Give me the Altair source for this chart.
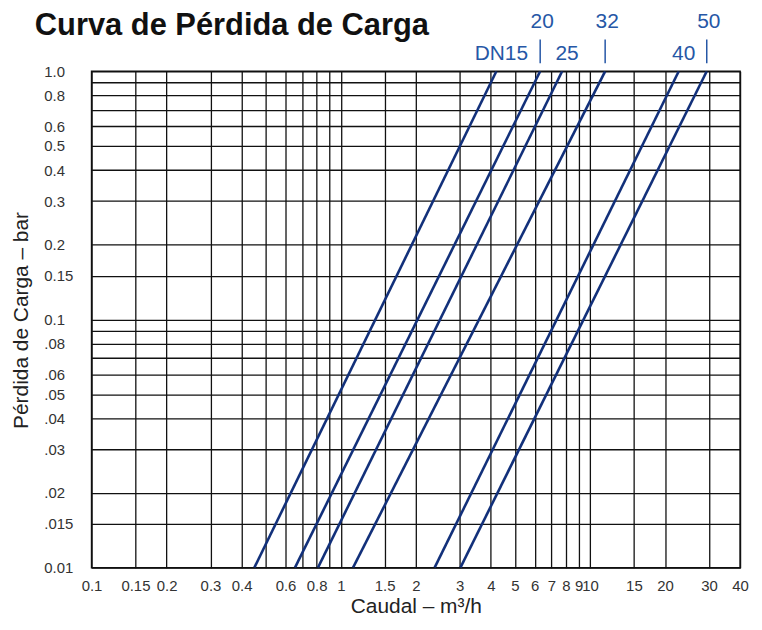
import json
import altair as alt
import pandas as pd

# ---- data ----
sizes = ["DN15", "20", "25", "32", "40", "50"]
flow_at_min_dp = [0.45, 0.655, 0.81, 1.12, 2.38, 3.02]   # m3/h at 0.01 bar
flow_at_max_dp = [4.21, 6.31, 7.73, 11.5, 22.7, 29.4]    # m3/h at 1.0 bar
dp_min, dp_max = 0.01, 1.0
upper_row = ["20", "32", "50"]

x_ticks = [0.1, 0.15, 0.2, 0.3, 0.4, 0.5, 0.6, 0.7, 0.8, 0.9, 1, 1.5, 2, 3, 4,
           5, 6, 7, 8, 9, 10, 15, 20, 30, 40]
x_labels = ["0.1", "0.15", "0.2", "0.3", "0.4", "", "0.6", "", "0.8", "", "1",
            "1.5", "2", "3", "4", "5", "6", "7", "8", "9", "10", "15", "20", "30", "40"]
y_ticks = [0.01, 0.015, 0.02, 0.03, 0.04, 0.05, 0.06, 0.07, 0.08, 0.09, 0.1,
           0.15, 0.2, 0.3, 0.4, 0.5, 0.6, 0.7, 0.8, 0.9, 1.0]
y_labels = ["0.01", ".015", ".02", ".03", ".04", ".05", ".06", "", ".08", "",
            "0.1", "0.15", "0.2", "0.3", "0.4", "0.5", "0.6", "", "0.8", "", "1.0"]
chart_title = "Curva de Pérdida de Carga"

# ---- tables ----
rows = []
for s, q0, q1 in zip(sizes, flow_at_min_dp, flow_at_max_dp):
    rows.append({"DN": s, "Q": q0, "dp": dp_min})
    rows.append({"DN": s, "Q": q1, "dp": dp_max})
line_df = pd.DataFrame(rows)
label_df = pd.DataFrame({"DN": sizes, "Q": flow_at_max_dp})

LINE = "#12307a"
LABEL = "#2657a6"
FONT = "Liberation Sans"

xscale = alt.Scale(type="log", domain=[0.1, 40], nice=False)
yscale = alt.Scale(type="log", domain=[0.01, 1.0], nice=False)

xaxis = alt.Axis(
    values=x_ticks,
    labelExpr=f"{json.dumps(x_labels)}[indexof({json.dumps(x_ticks)}, datum.value)]",
    title="Caudal – m³/h",
    ticks=False, tickSize=0, labelPadding=11, labelOverlap=False, labelFlush=False,
    titleY=39, titleBaseline="middle",
)
yaxis = alt.Axis(
    values=y_ticks,
    labelExpr=f"{json.dumps(y_labels)}[indexof({json.dumps(y_ticks)}, datum.value)]",
    title="Pérdida de Carga – bar",
    ticks=False, tickSize=0, labelPadding=48, labelAlign="left", labelBaseline="middle",
    labelOverlap=False, labelFlush=False,
    titleX=-70, titleY=250, titleAngle=270, titleAlign="center", titleBaseline="middle",
)

lines = alt.Chart(line_df).mark_line(color=LINE, strokeWidth=2.6, clip=True).encode(
    x=alt.X("Q:Q", scale=xscale, axis=xaxis),
    y=alt.Y("dp:Q", scale=yscale, axis=yaxis),
    detail="DN:N",
)

top_labels = alt.Chart(label_df).transform_filter(
    alt.FieldOneOfPredicate(field="DN", oneOf=upper_row)
).mark_text(font=FONT, fontSize=21, color=LABEL, dx=2, baseline="middle").encode(
    x=alt.X("Q:Q"), y=alt.value(-50), text="DN:N"
)

low_labels = alt.Chart(label_df).transform_filter(
    {"not": alt.FieldOneOfPredicate(field="DN", oneOf=upper_row).to_dict()}
).mark_text(font=FONT, fontSize=21, color=LABEL, dx=5, baseline="middle").encode(
    x=alt.X("Q:Q"), y=alt.value(-17), text="DN:N"
)

ticks = alt.Chart(label_df).transform_filter(
    alt.FieldOneOfPredicate(field="DN", oneOf=upper_row)
).mark_rule(color=LABEL, strokeWidth=1.5).encode(
    x=alt.X("Q:Q"), y=alt.value(-32), y2=alt.value(-8)
)

title_text = alt.Chart(pd.DataFrame({"t": [chart_title]})).mark_text(
    font=FONT, fontSize=31, fontWeight="bold", color="#111111",
    align="left", baseline="alphabetic",
).encode(x=alt.value(-57), y=alt.value(-36), text="t:N")

chart = alt.layer(lines, ticks, top_labels, low_labels, title_text).properties(
    width=652,
    height=499,
    autosize=alt.AutoSizeParams(type="none"),
    padding={"left": 84, "top": 62, "right": 14, "bottom": 50},
    background="white",
).configure_view(
    stroke="#111111", strokeWidth=1.5
).configure_axis(
    grid=True, gridColor="#111111", gridWidth=1.3, gridOpacity=1, domain=False,
    labelFont=FONT, labelFontSize=15, labelColor="#333333",
    titleFont=FONT, titleFontSize=21, titleFontWeight="normal", titleColor="#222222",
)

chart.save("out.html", embed_options={"renderer": "svg", "actions": False})
